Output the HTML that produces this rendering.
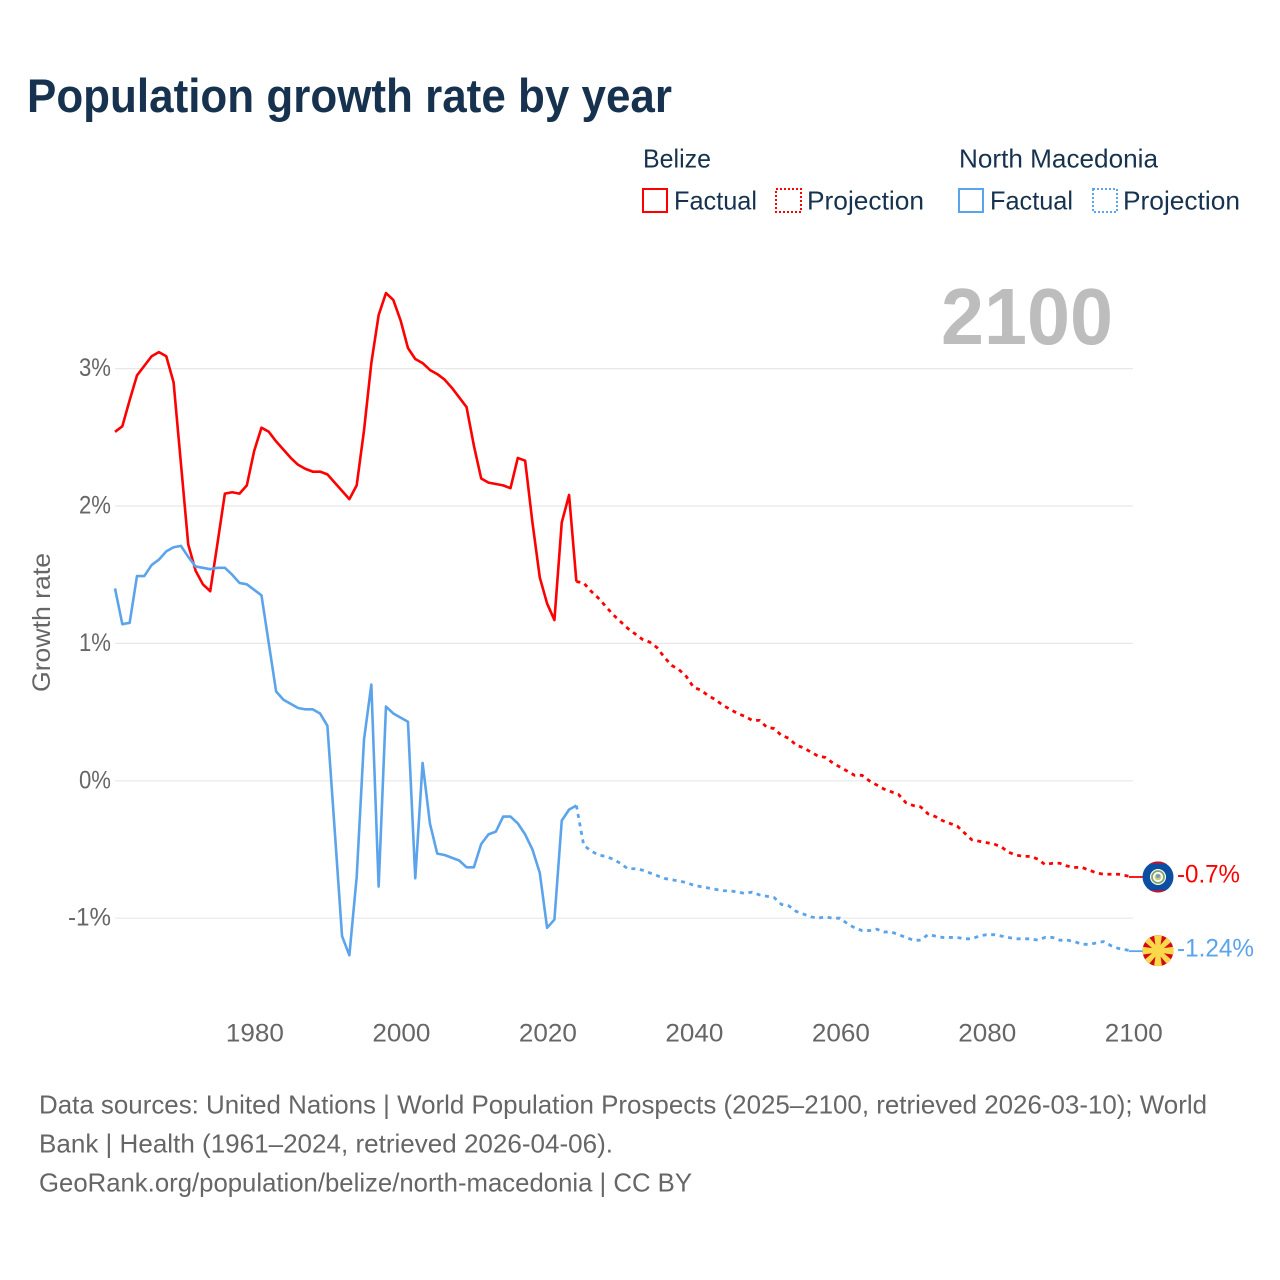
<!DOCTYPE html>
<html lang="en">
<head>
<meta charset="utf-8">
<title>Population growth rate by year</title>
<style>
html,body{margin:0;padding:0;background:#fff;width:1280px;height:1280px;overflow:hidden}
svg{display:block}
text{font-family:"Liberation Sans",sans-serif}
</style>
</head>
<body>
<svg id="chart" xmlns="http://www.w3.org/2000/svg" width="1280" height="1280" viewBox="0 0 1280 1280">
  <text x="27" y="112" font-size="47" font-weight="700" fill="#17324f" textLength="645" lengthAdjust="spacingAndGlyphs">Population growth rate by year</text>

  <g>
    <text x="643" y="167.5" font-size="26" fill="#17324f" textLength="68" lengthAdjust="spacingAndGlyphs">Belize</text>
    <text x="959" y="167.5" font-size="26" fill="#17324f" textLength="199" lengthAdjust="spacingAndGlyphs">North Macedonia</text>
    <rect x="643" y="189" width="24" height="23" fill="none" stroke="#ff0000" stroke-width="2"/>
    <text x="674" y="209.5" font-size="26" fill="#17324f" textLength="83" lengthAdjust="spacingAndGlyphs">Factual</text>
    <rect x="776" y="189" width="25" height="23" fill="none" stroke="#ff0000" stroke-width="2" stroke-dasharray="2 2"/>
    <text x="807" y="209.5" font-size="26" fill="#17324f" textLength="117" lengthAdjust="spacingAndGlyphs">Projection</text>
    <rect x="959" y="189" width="24" height="23" fill="none" stroke="#5ba4ec" stroke-width="2"/>
    <text x="990" y="209.5" font-size="26" fill="#17324f" textLength="83" lengthAdjust="spacingAndGlyphs">Factual</text>
    <rect x="1093" y="189" width="24" height="23" fill="none" stroke="#5ba4ec" stroke-width="2" stroke-dasharray="2 2"/>
    <text x="1123" y="209.5" font-size="26" fill="#17324f" textLength="117" lengthAdjust="spacingAndGlyphs">Projection</text>
  </g>

  <g id="grid"></g>
  <g id="yticks"></g>
  <g id="xticks"></g>

  <text x="941" y="344" font-size="80" font-weight="700" fill="#bdbdbd" textLength="172" lengthAdjust="spacingAndGlyphs">2100</text>

  <text transform="translate(50,692) rotate(-90)" x="0" y="0" font-size="25" fill="#666666" textLength="139" lengthAdjust="spacingAndGlyphs">Growth rate</text>

  <g id="series"></g>

  <g id="flag-belize">
    <clipPath id="clip-bz"><circle cx="0" cy="0" r="15.5"/></clipPath>
    <g clip-path="url(#clip-bz)">
      <rect x="-16" y="-16" width="32" height="32" fill="#0b4ea2"/>
      <rect x="-16" y="-16" width="32" height="3" fill="#a81c3c"/>
      <rect x="-16" y="13" width="32" height="3" fill="#a81c3c"/>
      <circle r="8" fill="#ffffff"/>
      <circle r="6" fill="none" stroke="#7fa868" stroke-width="1.8"/>
      <circle r="3.4" fill="#d9c878"/>
      <circle cy="-1" r="2" fill="#6f9fc8"/>
    </g>
  </g>
  <g id="flag-mk">
    <clipPath id="clip-mk"><circle cx="0" cy="0" r="15.5"/></clipPath>
    <g clip-path="url(#clip-mk)">
      <rect x="-16" y="-16" width="32" height="32" fill="#d20a11"/>
      <polygon points="-1.8,0 1.8,0 4,-16 -4,-16" fill="#fbd84a"/>
      <polygon points="-1.8,0 1.8,0 4,16 -4,16" fill="#fbd84a"/>
      <polygon points="0,-1.8 0,1.8 -16,4 -16,-4" fill="#fbd84a"/>
      <polygon points="0,-1.8 0,1.8 16,4 16,-4" fill="#fbd84a"/>
      <polygon points="-1.3,1.3 1.3,-1.3 -13,-18 -18,-13" fill="#fbd84a"/>
      <polygon points="1.3,1.3 -1.3,-1.3 13,-18 18,-13" fill="#fbd84a"/>
      <polygon points="-1.3,-1.3 1.3,1.3 -13,18 -18,13" fill="#fbd84a"/>
      <polygon points="1.3,-1.3 -1.3,1.3 13,18 18,13" fill="#fbd84a"/>
      <circle r="4.6" fill="#fbd84a"/>
    </g>
  </g>

  <text id="end-label-bz" x="1177" y="882" font-size="25" fill="#ff0000" textLength="63" lengthAdjust="spacingAndGlyphs"></text>
  <text id="end-label-mk" x="1177" y="957" font-size="25" fill="#5ba4ec" textLength="77" lengthAdjust="spacingAndGlyphs"></text>

  <g fill="#666666" font-size="26">
    <text x="39" y="1113.5" textLength="1168" lengthAdjust="spacingAndGlyphs">Data sources: United Nations | World Population Prospects (2025–2100, retrieved 2026-03-10); World</text>
    <text x="39" y="1152.5" textLength="574" lengthAdjust="spacingAndGlyphs">Bank | Health (1961–2024, retrieved 2026-04-06).</text>
    <text x="39" y="1191.5" textLength="653" lengthAdjust="spacingAndGlyphs">GeoRank.org/population/belize/north-macedonia | CC BY</text>
  </g>
</svg>
<script>
const firstYear = 1961;
const lastYear = 2100;
const lastFactualYear = 2024;
const yTickValues = [3, 2, 1, 0, -1];
const yTickLabels = ["3%", "2%", "1%", "0%", "-1%"];
const xTickValues = [1980, 2000, 2020, 2040, 2060, 2080, 2100];

const belizeFactual = [2.54,2.58,2.77,2.95,3.02,3.09,3.12,3.09,2.90,2.31,1.72,1.53,1.43,1.38,1.73,2.09,2.10,2.09,2.15,2.40,
2.57,2.54,2.47,2.41,2.35,2.30,2.27,2.25,2.25,2.23,2.17,2.11,2.05,2.15,2.55,3.04,3.39,3.55,3.50,3.35,
3.15,3.07,3.04,2.99,2.96,2.92,2.86,2.79,2.72,2.44,2.20,2.17,2.16,2.15,2.13,2.35,2.33,1.88,1.48,1.29,
1.17,1.88,2.08,1.45];
const belizeProjection = [1.44,1.38,1.33,1.27,1.21,1.16,1.11,1.07,1.03,1.01,0.97,0.90,0.84,0.81,0.76,0.68,0.66,0.62,0.59,0.55,
0.52,0.49,0.47,0.44,0.44,0.39,0.38,0.33,0.31,0.26,0.24,0.21,0.18,0.17,0.13,0.10,0.07,0.04,0.04,0.00,
-0.03,-0.06,-0.08,-0.10,-0.16,-0.18,-0.19,-0.24,-0.26,-0.29,-0.31,-0.33,-0.38,-0.43,-0.44,-0.45,-0.46,-0.48,-0.52,-0.54,
-0.55,-0.55,-0.57,-0.61,-0.60,-0.60,-0.62,-0.63,-0.63,-0.65,-0.67,-0.68,-0.68,-0.68,-0.69,-0.70];
const macedoniaFactual = [1.40,1.14,1.15,1.49,1.49,1.57,1.61,1.67,1.70,1.71,1.63,1.56,1.55,1.54,1.55,1.55,1.50,1.44,1.43,1.39,
1.35,1.00,0.65,0.59,0.56,0.53,0.52,0.52,0.49,0.40,-0.36,-1.13,-1.27,-0.70,0.30,0.70,-0.77,0.54,0.49,0.46,
0.43,-0.71,0.13,-0.31,-0.53,-0.54,-0.56,-0.58,-0.63,-0.63,-0.46,-0.39,-0.37,-0.26,-0.26,-0.31,-0.39,-0.50,-0.67,-1.07,
-1.01,-0.29,-0.21,-0.18];
const macedoniaProjection = [-0.47,-0.51,-0.54,-0.55,-0.57,-0.60,-0.64,-0.64,-0.65,-0.67,-0.69,-0.71,-0.72,-0.73,-0.74,-0.76,-0.77,-0.78,-0.79,-0.80,
-0.80,-0.81,-0.82,-0.81,-0.83,-0.84,-0.85,-0.90,-0.91,-0.95,-0.97,-0.99,-1.00,-0.99,-1.00,-1.00,-1.04,-1.07,-1.09,-1.09,
-1.08,-1.10,-1.10,-1.12,-1.14,-1.16,-1.16,-1.12,-1.13,-1.14,-1.14,-1.14,-1.15,-1.15,-1.13,-1.12,-1.12,-1.13,-1.14,-1.15,
-1.15,-1.15,-1.16,-1.14,-1.14,-1.16,-1.16,-1.17,-1.19,-1.19,-1.18,-1.17,-1.20,-1.22,-1.23,-1.24];

const SVG_NS = "http://www.w3.org/2000/svg";
const plotLeft = 115, plotRight = 1133, zeroY = 780.8, pxPerPercent = 137.4;
const flagCx = 1158;
const RED = "#ff0000", BLUE = "#5ba4ec";

function xScale(year) {
  return plotLeft + (year - firstYear) * (plotRight - plotLeft) / (lastYear - firstYear);
}
function yScale(value) {
  return zeroY - value * pxPerPercent;
}
function make(tag, attrs, parent) {
  const el = document.createElementNS(SVG_NS, tag);
  for (const k in attrs) el.setAttribute(k, attrs[k]);
  parent.appendChild(el);
  return el;
}
function pathFrom(values, startYear, prefix) {
  let d = prefix || "";
  values.forEach(function (v, i) {
    d += (d ? "L" : "M") + xScale(startYear + i).toFixed(2) + " " + yScale(v).toFixed(2);
  });
  return d;
}

const gridG = document.getElementById("grid");
const yG = document.getElementById("yticks");
const xG = document.getElementById("xticks");
const seriesG = document.getElementById("series");

yTickValues.forEach(function (v, i) {
  const line = make("line", {x1: plotLeft, x2: plotRight, y1: yScale(v), y2: yScale(v), stroke: "#e8e8e8", "stroke-width": 1.2}, gridG);
  
  
  const label = make("text", {x: 111, y: yScale(v) + 7.5, "text-anchor": "end", "font-size": 25, fill: "#666666", textLength: yTickLabels[i].length * 11 + 10, lengthAdjust: "spacingAndGlyphs"}, yG);
  
  
  label.textContent = yTickLabels[i];
});

xTickValues.forEach(function (year) {
  const label = make("text", {x: xScale(year) + 0.8, y: 1041.5, "text-anchor": "middle", "font-size": 25, fill: "#666666", textLength: 58, lengthAdjust: "spacingAndGlyphs"}, xG);
  
  
  label.textContent = String(year);
});

function drawSeries(factual, projection, color, slug) {
  const lastF = factual[factual.length - 1];
  const solid = make("path", {d: pathFrom(factual, firstYear), fill: "none", stroke: color, "stroke-width": 2.6, "stroke-linejoin": "round"}, seriesG);
  
  
  const startM = "M" + xScale(lastFactualYear).toFixed(2) + " " + yScale(lastF).toFixed(2);
  const dashed = make("path", {d: pathFrom(projection, lastFactualYear + 1, startM), fill: "none", stroke: color, "stroke-width": 2.8, "stroke-dasharray": "4 4.6"}, seriesG);
  
  
  const endV = projection[projection.length - 1];
  const conn = make("line", {x1: xScale(lastYear) - 4, x2: flagCx - 14, y1: yScale(endV), y2: yScale(endV), stroke: color, "stroke-width": 1.8}, seriesG);
  
  
  return endV;
}
const endBz = drawSeries(belizeFactual, belizeProjection, RED, "belize");
const endMk = drawSeries(macedoniaFactual, macedoniaProjection, BLUE, "north-macedonia");

document.getElementById("flag-belize").setAttribute("transform", "translate(" + flagCx + "," + yScale(endBz) + ")");
document.getElementById("flag-mk").setAttribute("transform", "translate(" + flagCx + "," + (yScale(endMk) - 0.5) + ")");

const lblBz = document.getElementById("end-label-bz");
lblBz.textContent = endBz.toFixed(1) + "%";
lblBz.setAttribute("y", yScale(endBz) + 5.5);
const lblMk = document.getElementById("end-label-mk");
lblMk.textContent = endMk + "%";
lblMk.setAttribute("y", yScale(endMk) + 5.5);
</script>
</body>
</html>
